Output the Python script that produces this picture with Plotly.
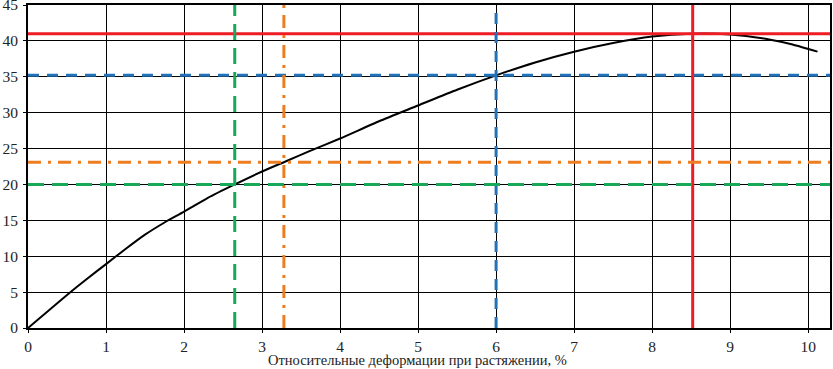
import plotly.graph_objects as go

# Stress-strain curve
strain = [0, 0.25, 0.5, 0.75, 1.0, 1.25, 1.5, 1.75, 2.0, 2.3, 2.65, 3.0, 3.3, 3.6, 4.0, 4.5, 5.0, 5.5, 6.0, 6.5, 7.0, 7.5, 8.0, 8.5, 9.0, 9.5, 9.8, 10.12]
stress = [0, 2.3, 4.6, 6.8, 8.9, 11.0, 13.0, 14.7, 16.2, 18.1, 20.0, 21.8, 23.2, 24.6, 26.4, 28.8, 31.0, 33.2, 35.2, 37.0, 38.5, 39.7, 40.6, 41.0, 40.9, 40.2, 39.5, 38.5]

# Reference levels
ref_names = ["red", "blue", "orange", "green"]
ref_x = [8.52, 6.0, 3.28, 2.65]
ref_y = [41.0, 35.2, 23.1, 20.0]
ref_colors = ["#ee1c25", "#2272b9", "#ee7d22", "#17a85a"]
ref_dash = ["solid", "11px,8px", "13px,7px,3px,7px", "16px,8px"]

x_ticks = [0, 1, 2, 3, 4, 5, 6, 7, 8, 9, 10]
y_ticks = [0, 5, 10, 15, 20, 25, 30, 35, 40, 45]
x_title = "Относительные деформации при растяжении, %"

fig = go.Figure()

for xv, yv, c, d in zip(ref_x, ref_y, ref_colors, ref_dash):
    fig.add_hline(y=yv, line=dict(color=c, width=3, dash=d), layer="above")
    fig.add_vline(x=xv, line=dict(color=c, width=3, dash=d), layer="above")

fig.add_trace(go.Scatter(x=strain, y=stress, mode="lines",
                         line=dict(color="black", width=2, shape="spline", smoothing=0.6),
                         showlegend=False))

fam = "Liberation Serif, DejaVu Serif, serif"
font = dict(family=fam, size=14.5, color="#222")
tfont = dict(family=fam, size=15.5, color="#222")

fig.update_layout(
    width=833, height=369,
    margin=dict(l=28, r=3, t=5, b=41),
    paper_bgcolor="white", plot_bgcolor="white",
    font=font,
    showlegend=False,
)
fig.add_annotation(text=x_title, xref="paper", yref="paper", x=0.486, y=-0.099,
                   xanchor="center", yanchor="middle", showarrow=False, font=font)
fig.update_xaxes(range=[0, 10.28], tickvals=x_ticks, showgrid=True, gridcolor="black", gridwidth=1,
                 showline=True, linecolor="black", linewidth=2, mirror=True, zeroline=False,
                 ticks="outside", ticklen=3, tickcolor="black", automargin=False,
                 tickfont=tfont, ticklabelstandoff=0, ticklabeloverflow="allow")
fig.update_yaxes(range=[0, 45], tickvals=y_ticks, showgrid=True, gridcolor="black", gridwidth=1,
                 showline=True, linecolor="black", linewidth=2, mirror=True, zeroline=False,
                 ticks="outside", ticklen=3, tickcolor="black", automargin=False,
                 tickfont=tfont, ticklabelstandoff=2, ticklabeloverflow="allow")

fig.write_html("out.html", config={"displayModeBar": False},
               post_script="document.body.style.margin='0';document.body.style.overflow='hidden';")
